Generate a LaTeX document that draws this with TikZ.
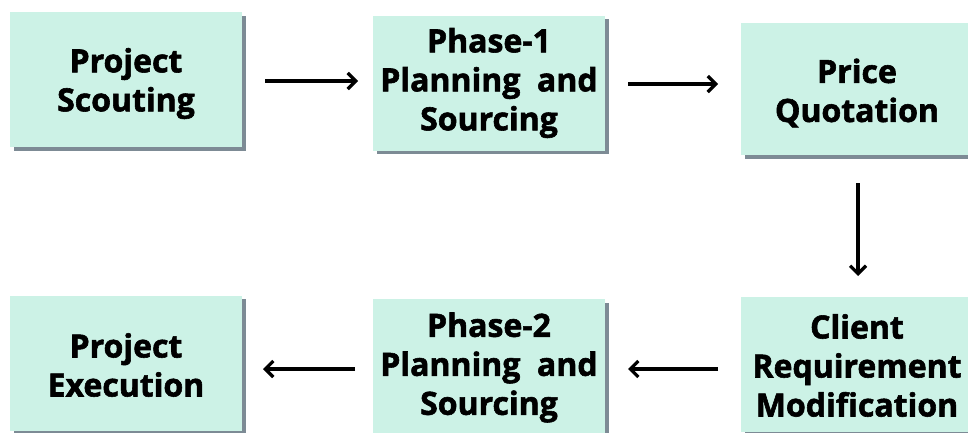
\documentclass[tikz,border=0pt]{standalone}
\usepackage{fontspec}
\setmainfont{Open Sans}[BoldFeatures={FakeBold=1.8}]
\usetikzlibrary{arrows.meta,shadows}
\definecolor{mint}{HTML}{CCF2E6}
\definecolor{shade}{HTML}{7D8B95}
\begin{document}
\begin{tikzpicture}[x=1pt,y=-1pt,
  stepbox/.style={fill=mint, minimum width=232pt, minimum height=135pt, inner sep=0pt,
    drop shadow={shadow xshift=3.5pt, shadow yshift=-3.5pt, fill=shade, opacity=1}},
  steptext/.style={inner sep=0pt, align=center, font=\fontsize{32}{39}\selectfont\bfseries},
  flow/.style={line width=3.2pt, -{Straight Barb[length=8pt,width=16pt,line width=3.2pt]}}]
\useasboundingbox (0,0) rectangle (968,432);
\begin{scope}
\clip (0,0) rectangle (968,432);
\node[stepbox] (scout) at (126,79.5) {};
\node[stepbox] (ph1) at (489,83) {};
\node[stepbox, minimum height=132pt] (price) at (857,89) {};
\node[stepbox] (client) at (857,364.5) {};
\node[stepbox] (ph2) at (489,366.5) {};
\node[stepbox] (exec) at (126,363) {};
\node[steptext] (scoutT) at ([yshift=-4pt]scout.center) {Project\\Scouting};
\node[steptext] (ph1T) at (ph1.center) {Phase-1\\Planning\ \ and\\Sourcing};
\node[steptext] (priceT) at ([yshift=-4pt]price.center) {Price\\Quotation};
\node[steptext] (clientT) at ([yshift=-1pt]client.center) {Client\\Requirement\\Modification};
\node[steptext] (ph2T) at ([yshift=-1pt]ph2.center) {Phase-2\\Planning\ \ and\\Sourcing};
\node[steptext] (execT) at ([yshift=-2pt]exec.center) {Project\\Execution};
\end{scope}
\coordinate (a1s) at (265,81); \coordinate (a1e) at (358,81);
\draw[flow] (a1s) -- (a1e);
\coordinate (a2s) at (628,84); \coordinate (a2e) at (718,84);
\draw[flow] (a2s) -- (a2e);
\coordinate (a3s) at (858,183); \coordinate (a3e) at (858,276);
\draw[flow] (a3s) -- (a3e);
\coordinate (a4s) at (718,369); \coordinate (a4e) at (628,369);
\draw[flow] (a4s) -- (a4e);
\coordinate (a5s) at (355,369); \coordinate (a5e) at (263,369);
\draw[flow] (a5s) -- (a5e);
\end{tikzpicture}
\end{document}
